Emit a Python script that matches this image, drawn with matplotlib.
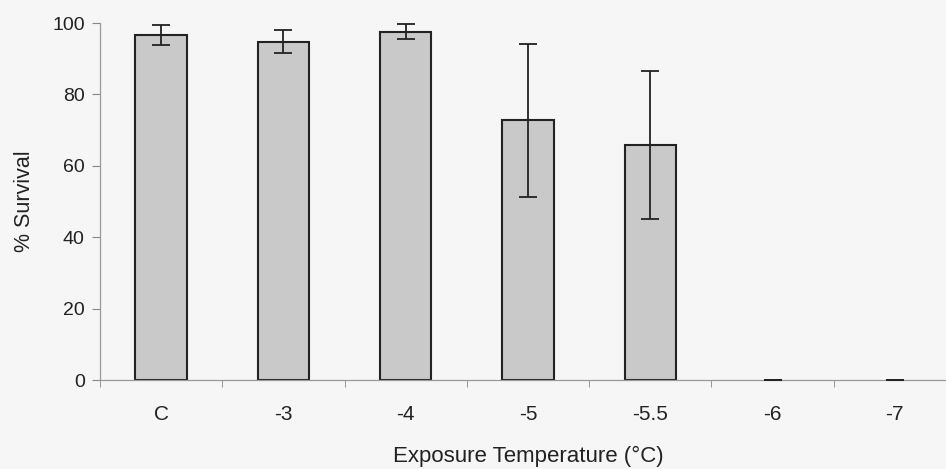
import matplotlib
matplotlib.use("Agg")
import matplotlib.pyplot as plt
import numpy as np

categories = ["C", "-3", "-4", "-5", "-5.5", "-6", "-7"]
survival = [96.7, 94.7, 97.6, 72.7, 65.8, 0, 0]
errors = [2.8, 3.2, 2.2, 21.4, 20.8, 0, 0]

plt.rcParams['font.family'] = ['Liberation Sans', 'DejaVu Sans']

fig = plt.figure(figsize=(9.46, 4.69), dpi=100, facecolor='#f6f6f6')
ax = fig.add_axes([100/946, 1-380/469, (956-100)/946, (380-23)/469])
ax.set_facecolor('#f6f6f6')

x = np.arange(len(categories))
ax.bar(x[:5], survival[:5], width=0.42, color='#c9c9c9', edgecolor='#222222', linewidth=1.5, zorder=2)
ax.errorbar(x, survival, yerr=errors, fmt='none', ecolor='#222222', elinewidth=1.3,
            capsize=6.5, capthick=1.3, zorder=3)

ax.set_xlim(-0.5, 6.5)
ax.set_ylim(0, 100)
ax.set_yticks([0, 20, 40, 60, 80, 100])
ax.set_xticks(x)
ax.set_xticklabels(categories)
ax.set_xticks(np.arange(-0.5, 7, 1), minor=True)
ax.tick_params(axis='x', which='major', length=0, pad=18, labelsize=15, colors='#222222')
ax.tick_params(axis='x', which='minor', length=5, color='#888888', direction='out')
ax.tick_params(axis='y', length=6, color='#888888', labelsize=14, labelcolor='#222222', pad=5)

for s in ['top', 'right']:
    ax.spines[s].set_visible(False)
ax.spines['left'].set_color('#999999')
ax.spines['bottom'].set_color('#999999')
ax.spines['left'].set_linewidth(0.9)
ax.spines['bottom'].set_linewidth(0.9)

ax.set_ylabel('% Survival', fontsize=15.5, color='#222222', labelpad=12)
ax.set_xlabel('Exposure Temperature (\u00b0C)', fontsize=16, color='#222222', labelpad=16)

fig.savefig('out.png', dpi=100, facecolor=fig.get_facecolor())
